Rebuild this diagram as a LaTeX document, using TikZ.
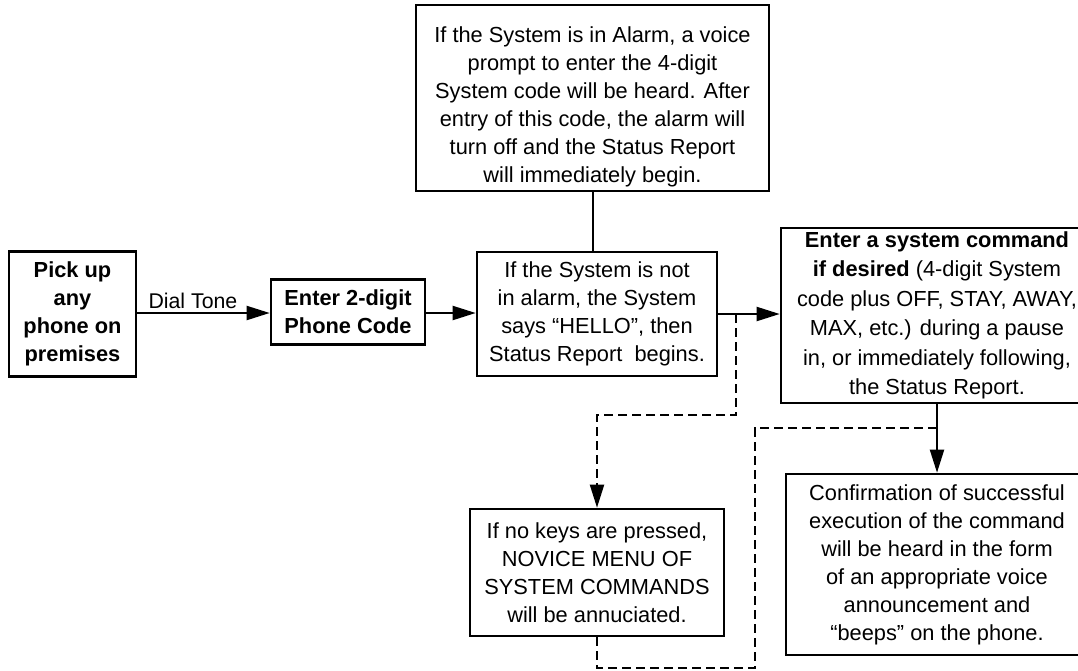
\documentclass[tikz,border=0pt]{standalone}
\usepackage{fontspec}
\setmainfont{Liberation Sans}
\usetikzlibrary{arrows.meta}
\tikzset{>={Triangle[length=23pt,width=14pt]}}
\tikzset{box/.style={draw, line width=2.6pt, align=center, inner sep=0pt, font=\fontsize{21.8}{28}\selectfont},
         link/.style={line width=2pt},
         dashlink/.style={line width=2pt, dash pattern=on 9pt off 5pt}}

\begin{document}
\begin{tikzpicture}[x=1pt, y=-1pt]
\useasboundingbox (0,0) rectangle (1078,670);
\clip (0,0) rectangle (1078,670);
\node[box, minimum width=127pt, minimum height=125pt] (pick) at (72.5,314) {\textbf{Pick up}\\\textbf{any}\\\textbf{phone on}\\\textbf{premises}};
\node[box, minimum width=154pt, minimum height=65pt] (phonecode) at (348,312) {\textbf{Enter 2-digit}\\\textbf{Phone Code}};
\node[box, minimum width=240pt, minimum height=124pt] (status) at (597,314) {If the System is not\\in alarm, the System\\says “HELLO”, then\\Status Report\ \ begins.};
\node[box, minimum width=353pt, minimum height=186pt] (alarm) at (592.5,98) {\rule{0pt}{34pt}If the System is in Alarm, a voice\\prompt to enter the 4-digit\\System code will be heard. After\\entry of this code, the alarm will\\turn off and the Status Report\\will immediately begin.};
\node[box, minimum width=312pt, minimum height=175pt, font=\fontsize{21.8}{29.5}\selectfont] (command) at (937,315.5) {\textbf{Enter a system command}\\\textbf{if desired} (4-digit System\\code plus OFF, STAY, AWAY,\\MAX, etc.) during a pause\\in, or immediately following,\\the Status Report.};
\node[box, minimum width=254pt, minimum height=127pt] (novice) at (597,572.5) {If no keys are pressed,\\NOVICE MENU OF\\SYSTEM COMMANDS\\will be annuciated.};
\node[box, minimum width=302pt, minimum height=181pt] (confirm) at (937,564.5) {Confirmation of successful\\execution of the command\\will be heard in the form\\of an appropriate voice\\announcement and\\“beeps” on the phone.};

\coordinate (split) at (736,314);
\coordinate (turnA) at (736,415);
\coordinate (turnB) at (755,668);
\coordinate (turnC) at (755,428);

\draw[link, ->] (pick.east |- 0,313) -- node[above, pos=0.42, font=\fontsize{21.3}{26}\selectfont] {Dial Tone} (phonecode.west |- 0,313);
\draw[link, ->] (phonecode.east |- 0,313) -- (status.west |- 0,313);
\draw[link, ->] (status.east |- 0,314) -- (command.west |- 0,314);
\draw[link] (alarm.south) -- (alarm.south |- status.north);
\draw[link, ->] (command.south) -- (confirm.north);
% dashed paths round the novice menu
\draw[dashlink, ->] (split) -- (turnA) -- (turnA -| novice.north) -- (novice.north);
\draw[dashlink] (novice.south) -- (novice.south |- turnB) -- (turnB) -- (turnC) -- (turnC -| command.south);
\end{tikzpicture}
\end{document}
